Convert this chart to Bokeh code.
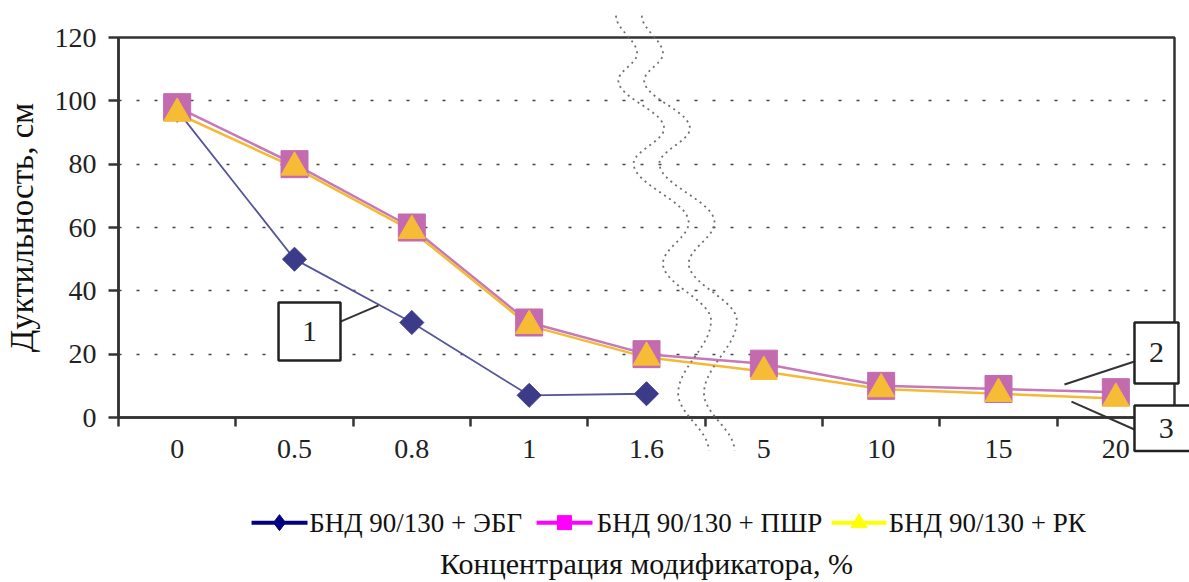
import numpy as np
from bokeh.plotting import figure
from bokeh.models import Range1d, FixedTicker
from bokeh.core.properties import value
from bokeh.embed import file_html
from bokeh.resources import INLINE

# ---------------- data ----------------
categories = ["0", "0.5", "0.8", "1", "1.6", "5", "10", "15", "20"]
ebg = [97, 50, 30, 7, 7.5]                       # БНД 90/130 + ЭБГ
pshr = [98, 80, 60, 30, 20, 17, 10, 9, 8]        # БНД 90/130 + ПШР
rk = [96, 79, 59, 29, 19, 14.5, 9, 7.5, 6]       # БНД 90/130 + РК
y_ticks = [0, 20, 40, 60, 80, 100, 120]
grid_ticks = [20, 40, 60, 80, 100]
series_names = ["БНД 90/130 + ЭБГ", "БНД 90/130 + ПШР", "БНД 90/130 + РК"]
x_title = "Концентрация модификатора, %"
y_title = "Дуктильность, см"

# axis-break wave (decoration): extremes in data units (x in category index, y in cm)
wave_x = [3.74, 3.92, 3.76, 4.15, 3.89, 4.36, 4.14, 4.55, 4.27, 4.53]
wave_y = [126.9, 114.9, 106.4, 91.3, 80.2, 61.6, 48.6, 30.6, 7.6, -10.4]
wave_gap = 0.22

# callouts: boxes (left, right, bottom, top), labels and leader lines, in data units
box_left = [0.864, 8.159, 8.159]
box_right = [1.392, 8.534, 8.75]
box_bottom = [18.0, 10.7, -10.6]
box_top = [36.3, 30.0, 3.8]
box_text = ["1", "2", "3"]
box_text_x = [1.128, 8.347, 8.43]
box_text_y = [27.2, 20.4, -3.4]
lead_x0 = [1.392, 8.159, 8.159]
lead_y0 = [30.3, 17.7, -3.8]
lead_x1 = [1.716, 7.562, 7.622]
lead_y1 = [35.4, 10.4, 5.0]

# legend row below the axis (data units)
leg_y = -33.2
leg_line_x0 = [0.634, 3.063, 5.577]
leg_line_x1 = [1.111, 3.540, 6.045]
leg_mark_x = [0.872, 3.301, 5.811]
leg_text_x = [1.125, 3.575, 6.065]
leg_colors = ["#000080", "#ff00ff", "#ffff00"]

FONT = "Liberation Serif"
AX = "#333333"
W, H = 1189, 582
ML, MR, MT, MB = 118, 15, 37, 165
X0, X1, Y0, Y1 = -0.5, 8.5, 0, 120

p = figure(width=W, height=H, x_range=Range1d(X0, X1), y_range=Range1d(Y0, Y1),
           output_backend="svg", toolbar_location=None,
           min_border_left=ML, min_border_right=MR, min_border_top=MT, min_border_bottom=MB)
p.background_fill_color = "white"
p.border_fill_color = "white"
p.outline_line_color = AX
p.outline_line_width = 2.5

# pixel -> data unit helpers (for marker-sized legend shapes)
ux = (X1 - X0) / (W - ML - MR)
uy = (Y1 - Y0) / (H - MT - MB)

# x axis
xa = p.xaxis[0]
xa.ticker = FixedTicker(ticks=list(range(len(categories))),
                        minor_ticks=[i - 0.5 for i in range(len(categories) + 1)])
xa.major_label_overrides = {i: c for i, c in enumerate(categories)}
xa.major_tick_line_color = None
xa.minor_tick_out = 9
xa.minor_tick_in = 0
xa.minor_tick_line_width = 2.5
xa.minor_tick_line_color = AX
xa.axis_line_color = AX
xa.axis_line_width = 2.5
xa.major_label_text_font = FONT
xa.major_label_text_font_size = "28px"
xa.major_label_text_color = "#222"
xa.major_label_standoff = 13
xa.axis_label = x_title
xa.axis_label_text_font = FONT
xa.axis_label_text_font_size = "30px"
xa.axis_label_text_font_style = "normal"
xa.axis_label_text_color = "#111"
xa.axis_label_standoff = 86

# y axis
ya = p.yaxis[0]
ya.ticker = FixedTicker(ticks=y_ticks)
ya.major_tick_out = 10
ya.major_tick_in = 0
ya.major_tick_line_width = 2.5
ya.major_tick_line_color = AX
ya.minor_tick_line_color = None
ya.axis_line_color = AX
ya.axis_line_width = 2.5
ya.major_label_text_font = FONT
ya.major_label_text_font_size = "28px"
ya.major_label_text_color = "#222"
ya.major_label_standoff = 12
ya.axis_label = y_title
ya.axis_label_text_font = FONT
ya.axis_label_text_font_size = "33px"
ya.axis_label_text_font_style = "normal"
ya.axis_label_text_color = "#111"
ya.axis_label_standoff = 12

p.xgrid.visible = False
p.ygrid.ticker = FixedTicker(ticks=grid_ticks)
p.ygrid.grid_line_color = "#444"
p.ygrid.grid_line_width = 1.5
p.ygrid.grid_line_dash = "3 15"

# ---------------- series ----------------
x_all = list(range(len(categories)))
p.line(x_all[:len(ebg)], ebg, line_color="#55559b", line_width=1.8)
p.line(x_all, pshr, line_color="#c678b8", line_width=2.5)
p.line(x_all, rk, line_color="#f4b936", line_width=2.5)
p.scatter(x_all[:len(ebg)], ebg, marker="square", angle=np.pi / 4, size=17,
          fill_color="#3b3b8a", line_color="#3b3b8a")
p.scatter(x_all, pshr, marker="square", size=27, fill_color="#c46aae", line_color="#c46aae")
p.scatter(x_all, rk, marker="triangle", size=27, fill_color="#f6bc36", line_color="#f6bc36")

# ---------------- axis-break waves ----------------
def wave(xs, ys, n=24):
    px, py = [], []
    for i in range(len(xs) - 1):
        t = np.linspace(0, 1, n, endpoint=False)
        px.extend(xs[i] + (xs[i + 1] - xs[i]) * (1 - np.cos(np.pi * t)) / 2)
        py.extend(ys[i] + (ys[i + 1] - ys[i]) * t)
    px.append(xs[-1]); py.append(ys[-1])
    return np.array(px), np.array(py)

wx, wy = wave(wave_x, wave_y)
for off in (0.0, wave_gap):
    p.line(wx + off, wy, line_color="#6f6f6f", line_width=1.8, line_dash="2 4", level="overlay")

# ---------------- callouts ----------------
p.segment(lead_x0, lead_y0, lead_x1, lead_y1, line_color="#333", line_width=2, level="overlay")
p.quad(left=box_left, right=box_right, bottom=box_bottom, top=box_top,
       fill_color="white", line_color="#222", line_width=2.5, level="overlay")
p.text(box_text_x, box_text_y, text=box_text, text_align="center", text_baseline="middle",
       text_font=value(FONT), text_font_size="30px", text_color="#222", level="overlay")

# ---------------- legend (row below the axis) ----------------
n_leg = len(series_names)
p.segment(leg_line_x0, [leg_y] * n_leg, leg_line_x1, [leg_y] * n_leg,
          line_color=leg_colors, line_width=4, level="overlay")
# marker shapes (diamond, square, triangle), sized in pixels
shapes = [
    [(0, 8), (6, 0), (0, -8), (-6, 0)],
    [(-7, 7), (7, 7), (7, -7), (-7, -7)],
    [(-8, -5), (8, -5), (0, 9)],
]
for mx, col, shp in zip(leg_mark_x, leg_colors, shapes):
    p.patch([mx + dx * ux for dx, dy in shp], [leg_y + dy * uy for dx, dy in shp],
            fill_color=col, line_color=col, line_width=1, level="overlay")
p.text(leg_text_x, [leg_y] * n_leg, text=series_names, text_align="left",
       text_baseline="middle", text_font=value(FONT), text_font_size="27px",
       text_color="#111", level="overlay")

open("out.html", "w").write(file_html(p, INLINE))
